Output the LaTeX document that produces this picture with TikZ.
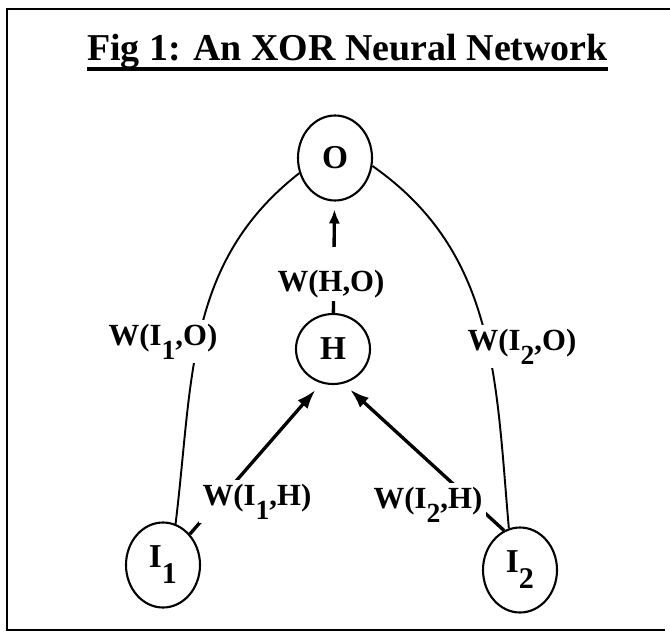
\documentclass[tikz,border=0pt]{standalone}
\usepackage{fontspec}
\setmainfont{Liberation Serif}
\usepackage{graphicx}
\usetikzlibrary{shapes.geometric}
\usetikzlibrary{arrows.meta}
\pgfdeclarelayer{bg}
\pgfsetlayers{bg,main}
\newcommand{\low}[1]{\raisebox{-0.48em}{\scalebox{0.9}{#1}}}

\begin{document}
\begin{tikzpicture}[
    unit/.style={draw, ellipse, line width=1.2pt, inner sep=0pt,
      minimum width=1.48cm, minimum height=1.7cm,
      font=\fontsize{19}{19}\selectfont\bfseries},
    weight/.style={fill=white, inner sep=2pt, anchor=base,
      font=\fontsize{17.5}{17.5}\selectfont\bfseries},
    link/.style={line width=1.1pt},
    feed/.style={line width=1.9pt, -{Latex[length=11pt,width=7.5pt]}, shorten >=5pt}]
  \useasboundingbox (0, 0) rectangle (13.4, 12.72);
  \draw[line width=1.4pt] (13.4, 12.54) -- (0.14, 12.54) -- (0.14, 0.12) -- (13.3, 0.12);

  \node[anchor=base, inner sep=0pt, font=\fontsize{21.6}{21.6}\selectfont\bfseries] (title) at (6.95, 11.5) {Fig 1: An XOR Neural Network};
  \draw[line width=1.9pt] ([yshift=-4.5pt]title.base west) -- ([yshift=-4.5pt]title.base east);

  \node[unit] (o) at (6.70, 9.56) {O};
  \node[unit, minimum height=1.4cm] (h) at (6.66, 5.74) {H};
  \node[unit] (i1) at (3.26, 1.42) {I\low{1}};
  \node[unit] (i2) at (10.40, 1.32) {I\low{2}};

  \node[weight] (wi1o) at (3.26, 5.82) {W(I\low{1},O)};
  \node[weight] (wi2o) at (10.44, 5.72) {W(I\low{2},O)};
  \node[weight, text height=23pt] (who) at (6.62, 6.90) {W(H,O)};
  \node[weight] (wi1h) at (5.14, 2.62) {W(I\low{1},H)};
  \node[weight] (wi2h) at (8.56, 2.56) {W(I\low{2},H)};

  \begin{pgfonlayer}{bg}    % connectors go under the weights
    \draw[link] (o.203) to[out=218, in=83] (i1.73);
    \draw[link] (o.-12) to[out=-35, in=95] (i2.105);
    \draw[feed, -{Latex[length=8pt,width=6.5pt]}, shorten >=4.5pt] (h) -- (o);
    \draw[feed] (i1.49) -- (h.251);
    \draw[feed] (i2.112) -- (h.287);
  \end{pgfonlayer}
\end{tikzpicture}
\end{document}
